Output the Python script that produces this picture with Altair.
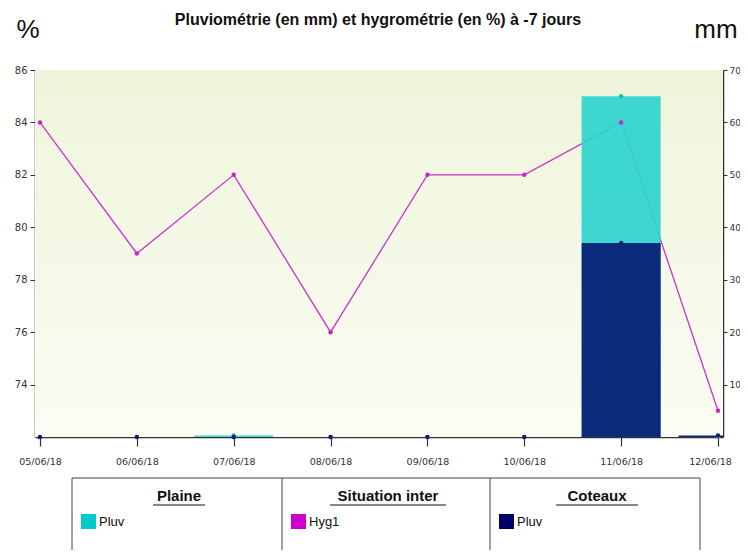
import altair as alt
import pandas as pd

# ---- data ----
dates = ["05/06/18", "06/06/18", "07/06/18", "08/06/18",
         "09/06/18", "10/06/18", "11/06/18", "12/06/18"]
hyg1 = [84, 79, 82, 76, 82, 82, 84, 73]            # % (left axis)
pluv_plaine = [0, 0, 0.3, 0, 0, 0, 65, 0]           # mm (right axis)
pluv_coteaux = [0, 0, 0, 0, 0, 0, 37, 0.3]          # mm (right axis)
hyg_ticks = [74, 76, 78, 80, 82, 84, 86]
pluv_ticks = [10, 20, 30, 40, 50, 60, 70]
legend_groups = ["Plaine", "Situation inter", "Coteaux"]
legend_items = ["Pluv", "Hyg1", "Pluv"]
legend_colors = ["#00cccc", "#cc00cc", "#000066"]
title_text = "Pluviométrie (en mm) et hygrométrie (en %) à -7 jours"

df = pd.DataFrame({
    "idx": list(range(len(dates))),
    "date": dates,
    "hyg": hyg1,
    "plaine": pluv_plaine,
    "coteaux": pluv_coteaux,
})
one = pd.DataFrame({"a": [0]})

W, H = 688, 367
last = len(dates) - 1
label_expr = "[" + ",".join("'" + d + "'" for d in dates) + "][datum.value]"

x_enc = alt.X(
    "idx:Q",
    title=None,
    scale=alt.Scale(domain=[0, last], nice=False, zero=False),
    axis=alt.Axis(
        values=list(range(len(dates))), labelExpr=label_expr,
        grid=True, gridDash=[3, 3], gridColor="#d6d9cc", gridWidth=1,
        tickSize=9, tickColor="#333333", tickWidth=1.2,
        domainColor="#333333", domainWidth=1.5,
        labelFont="DejaVu Sans", labelFontSize=9.5, labelColor="#333333",
        labelPadding=10,
        labelOffset={"condition": {"test": "datum.value == %d" % last, "value": -8},
                     "value": 0},
    ),
)

y_hyg_scale = alt.Scale(domain=[72, 86], nice=False, zero=False)
y_pluv_scale = alt.Scale(domain=[0, 70], nice=False, zero=False)

bg = alt.Chart(one).mark_rect(
    color=alt.Gradient(
        gradient="linear",
        stops=[alt.GradientStop(color="#eef5da", offset=0),
               alt.GradientStop(color="#fbfcf3", offset=1)],
        x1=0, x2=0, y1=0, y2=1,
    )
).encode(x=alt.value(0), x2=alt.value("width"), y=alt.value(0), y2=alt.value("height"))

hyg_line = alt.Chart(df).mark_line(color="#cc33cc", strokeWidth=1.3).encode(
    x=x_enc,
    y=alt.Y("hyg:Q", scale=y_hyg_scale, title=None,
            axis=alt.Axis(orient="left", values=hyg_ticks, grid=True,
                          gridColor="#c9cdbd", gridWidth=1,
                          tickSize=5, tickColor="#333333",
                          domainColor="#333333", domainWidth=1.5,
                          labelFont="DejaVu Sans", labelFontSize=10,
                          labelColor="#333333", labelPadding=3)),
)

bar_plaine = alt.Chart(df).mark_bar(color="#2ed4ce", opacity=0.93, size=79, clip=True).encode(
    x=x_enc,
    y=alt.Y("plaine:Q", scale=y_pluv_scale, title=None,
            axis=alt.Axis(orient="right", values=pluv_ticks, grid=False,
                          tickSize=4, tickColor="#333333",
                          domainColor="#333333", domainWidth=1.5,
                          labelFont="DejaVu Sans", labelFontSize=9,
                          labelColor="#333333", labelPadding=2)),
)

bar_coteaux = alt.Chart(df).mark_bar(color="#0c2a7c", size=79, clip=True).encode(
    x=x_enc,
    y=alt.Y("coteaux:Q", scale=y_pluv_scale, title=None, axis=None),
)

pts_plaine = alt.Chart(df).mark_circle(color="#1fb8b2", size=18, opacity=1).encode(
    x=x_enc,
    y=alt.Y("plaine:Q", scale=y_pluv_scale, title=None, axis=None),
)
pts_coteaux = alt.Chart(df).mark_circle(color="#1a1a70", size=20, opacity=1).encode(
    x=x_enc,
    y=alt.Y("coteaux:Q", scale=y_pluv_scale, title=None, axis=None),
)
pts_hyg = alt.Chart(df).mark_circle(color="#cc22cc", size=20, opacity=1).encode(
    x=x_enc,
    y=alt.Y("hyg:Q", scale=y_hyg_scale, title=None, axis=None),
)

# ---- texts above the plot ----
title = alt.Chart(one).mark_text(
    text=title_text, font="Liberation Sans", fontSize=16, fontWeight="bold",
    color="#111111", align="center", baseline="middle"
).encode(x=alt.value(343), y=alt.value(-50))
pct = alt.Chart(one).mark_text(
    text="%", font="Liberation Sans", fontSize=26, color="#111111",
    align="center", baseline="middle"
).encode(x=alt.value(-7), y=alt.value(-40))
mm = alt.Chart(one).mark_text(
    text="mm", font="Liberation Sans", fontSize=26, color="#111111",
    align="center", baseline="middle"
).encode(x=alt.value(681), y=alt.value(-40))

# ---- legend table below the plot ----
box_left, box_right, box_top, box_bottom = 37, 665, 408, 520
col_edges = [37, 247, 455, 665]
legend_layers = [
    alt.Chart(one).mark_rect(fill=None, stroke="#444444", strokeWidth=1).encode(
        x=alt.value(box_left), x2=alt.value(box_right),
        y=alt.value(box_top), y2=alt.value(box_bottom)),
]
for xe in col_edges[1:-1]:
    legend_layers.append(
        alt.Chart(one).mark_rule(color="#444444", strokeWidth=1).encode(
            x=alt.value(xe), y=alt.value(box_top), y2=alt.value(box_bottom)))
underline_w = [52, 116, 82]
for i, (g, it, c) in enumerate(zip(legend_groups, legend_items, legend_colors)):
    cx = (col_edges[i] + col_edges[i + 1]) / 2 + 2
    legend_layers.append(
        alt.Chart(one).mark_text(text=g, font="Liberation Sans", fontSize=15,
                                 fontWeight="bold", color="#111111",
                                 align="center", baseline="middle").encode(
            x=alt.value(cx), y=alt.value(box_top + 18)))
    legend_layers.append(
        alt.Chart(one).mark_rule(color="#111111", strokeWidth=1.2).encode(
            x=alt.value(cx - underline_w[i] / 2), x2=alt.value(cx + underline_w[i] / 2),
            y=alt.value(box_top + 27)))
    sx = col_edges[i] + 9
    legend_layers.append(
        alt.Chart(one).mark_rect(color=c).encode(
            x=alt.value(sx), x2=alt.value(sx + 15),
            y=alt.value(box_top + 36), y2=alt.value(box_top + 51)))
    legend_layers.append(
        alt.Chart(one).mark_text(text=it, font="Liberation Sans", fontSize=13,
                                 color="#111111", align="left",
                                 baseline="middle").encode(
            x=alt.value(sx + 18), y=alt.value(box_top + 44)))

chart = alt.layer(
    bg, hyg_line, bar_plaine, bar_coteaux, pts_plaine, pts_coteaux, pts_hyg,
    title, pct, mm, *legend_layers
).resolve_scale(y="independent").properties(
    width=W, height=H,
    autosize=alt.AutoSizeParams(type="none"),
    padding={"left": 27, "top": 62, "right": 17, "bottom": 113},
    background="white",
).configure_view(stroke=None)

chart.save("out.html", embed_options={"renderer": "svg", "actions": False})
